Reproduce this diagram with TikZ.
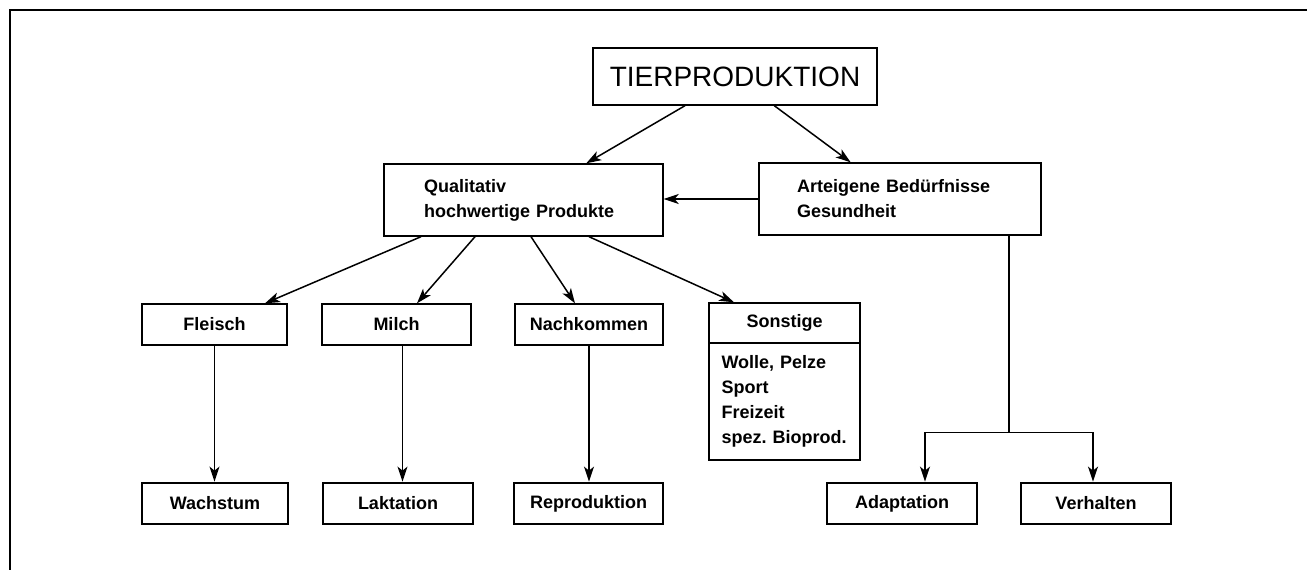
\documentclass[tikz,border=0pt]{standalone}
\usepackage{fontspec}
\setmainfont{Liberation Sans}
\usetikzlibrary{arrows.meta,calc}
\frenchspacing
\begin{document}
\begin{tikzpicture}[x=1pt,y=-1pt,
  box/.style={draw,line width=1.4pt,inner sep=0pt,font=\bfseries\fontsize{18}{25}\selectfont},
  resbox/.style={draw,line width=2.8pt,inner sep=0pt,minimum height=41,font=\bfseries\fontsize{18}{25}\selectfont},
  arr/.style={-{Stealth[length=15pt,width=10pt,inset=4pt]},line width=1.5pt},
  plain/.style={line width=1.5pt}]
\useasboundingbox (0,0) rectangle (1307,570);
% frame
\draw[line width=1.6pt] (10,570) -- (10,10) -- (1307,10);
% top
\node[draw,line width=1.4pt,minimum width=284,minimum height=57,inner sep=0pt,
      font=\fontsize{28}{30}\selectfont] (tier) at (735,76.5) {TIERPRODUKTION};
\node[box,minimum width=279,minimum height=72,text width=199,inner xsep=40,align=left]
      (qual) at (523.5,200) {Qualitativ\\hochwertige Produkte};
\node[box,minimum width=282,minimum height=72,text width=206,inner xsep=38,align=left]
      (art) at (900,199) {Arteigene Bedürfnisse\\Gesundheit};
% middle row
\node[box,minimum width=145,minimum height=41] (fleisch) at (214.5,324.5) {Fleisch};
\node[box,minimum width=149,minimum height=41] (milch) at (396.5,324.5) {Milch};
\node[box,minimum width=148,minimum height=41] (nach) at (589,324.5) {Nachkommen};
\node[box,minimum width=151,minimum height=40] (sonst) at (784.5,323) {Sonstige};
\node[box,minimum width=151,minimum height=117,text width=126,inner xsep=12.5,align=left]
      (list) at (784.5,401.5) {\mbox{Wolle, Pelze}\\Sport\\Freizeit\\\mbox{spez. Bioprod.}};
% bottom row
\node[resbox,minimum width=146] (wachs) at (215,503.5) {Wachstum};
\node[resbox,minimum width=150] (lakt) at (398,503.5) {Laktation};
\node[resbox,minimum width=149] (repro) at (588.5,503.5) {Reproduktion};
\node[resbox,minimum width=150] (adapt) at (902,503.5) {Adaptation};
\node[resbox,minimum width=150] (verh) at (1096,503.5) {Verhalten};
% connectors
\draw[arr] (tier) -- (qual);
\draw[arr] (tier) -- (art);
\draw[arr] (art.west) -- (qual.east |- art.west);
\draw[arr] ($(qual.south)+(-102.5,0)$) -- ($(fleisch.north)+(50.5,0)$);
\draw[arr] ($(qual.south)+(-48.5,0)$) -- ($(milch.north)+(20.5,0)$);
\draw[arr] ($(qual.south)+(7.5,0)$) -- ($(nach.north)+(-14,0)$);
\draw[arr] ($(qual.south)+(65.5,0)$) -- ($(sonst.north)+(-50.5,0)$);
\draw[arr] (fleisch.south) -- (fleisch.south |- wachs.north);
\path ($(milch.south)+(6,0)$) coordinate (m1);
\draw[arr] (m1) -- (m1 |- lakt.north);
\draw[arr] (nach.south) -- (nach.south |- repro.north);
\path ($(art.south)+(109,0)$) coordinate (a1);
\path (a1) ++(0,197) coordinate (split);
\path ($(adapt.north)+(23,0)$) coordinate (ad1);
\path ($(verh.north)+(-3,0)$) coordinate (ve1);
\draw[plain] (a1) -- (split);
\draw[arr] (split) -| (ad1);
\draw[arr] (split) -| (ve1);
\end{tikzpicture}
\end{document}
